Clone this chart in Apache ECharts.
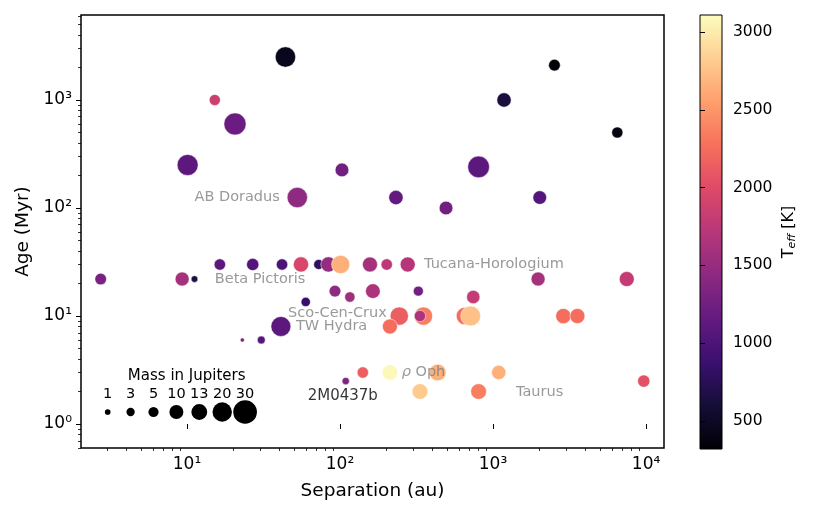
<!DOCTYPE html>
<html><head><meta charset="utf-8">
<script src="https://cdn.jsdelivr.net/npm/echarts@6/dist/echarts.min.js"></script>
<style>html,body{margin:0;padding:0;background:#fff}#c{width:830px;height:519px}</style>
</head><body><div id="c"></div>
<script>
// ---- data ----
const separation = [44, 15.2, 20.6, 10.1, 103, 52.6, 2520, 1180, 6490, 805, 232, 493, 2020,
  16.4, 26.9, 41.8, 55.6, 72.6, 84, 101, 157, 202, 277,
  2.73, 9.3, 11.2, 1970, 7480,
  92.7, 116, 164, 325, 743, 59.7,
  244, 351, 333, 656, 714, 2880, 3560, 212,
  41.1, 23, 30.6,
  141, 109, 212, 435, 1090, 333, 805, 9660];
const ageMyr = [2500, 1000, 600, 250, 225, 125, 2100, 1000, 500, 240, 125, 100, 125,
  30, 30, 30, 30, 30, 30, 30, 30, 30, 30,
  22, 22, 22, 22, 22,
  17, 15, 17, 17, 15, 13.5,
  10, 10, 10, 10, 10, 10, 10, 8,
  8, 6, 6,
  3, 2.5, 3, 3, 3, 2, 2, 2.5];
const massMj = [22, 6, 26, 23.5, 9.5, 22, 6.7, 10.5, 6, 25, 10.5, 9.5, 9.5,
  6.3, 7.5, 6.3, 12, 4.7, 12, 17.6, 11.6, 6.3, 11.6,
  6.7, 10, 1.7, 10, 11.6,
  6.7, 5.1, 11.1, 4.7, 9, 4,
  17.6, 17.6, 6.3, 16, 21, 12, 11.6, 11.6,
  21, 0.2, 2.7,
  6.3, 2.2, 12.7, 14.5, 10.5, 12.7, 12.7, 7.5];
const teffK = [450, 1850, 1200, 1100, 1250, 1450, 340, 650, 380, 1100, 1150, 1250, 1050,
  1100, 1050, 1000, 1950, 800, 1500, 2650, 1600, 1750, 1700,
  1300, 1600, 650, 1600, 1800,
  1450, 1550, 1650, 1250, 1800, 850,
  2150, 2350, 1650, 2250, 2750, 2250, 2250, 2250,
  1100, 1300, 1050,
  2150, 1350, 3080, 2650, 2650, 2800, 2350, 2050];

const groupLabels = ['AB Doradus', 'Beta Pictoris', 'Tucana-Horologium', 'Sco-Cen-Crux', 'TW Hydra', '{it|ρ} Oph', 'Taurus', '2M0437b'];
const groupLabelSep = [11.2, 15.2, 354, 45.7, 51.5, 253, 1413, 61.5];
const groupLabelAge = [126, 22, 30, 10.7, 8.0, 3.0, 1.98, 1.82];

const legendMasses = [1, 3, 5, 10, 13, 20, 30];
const xMajorExp = [1, 2, 3, 4];
const yMajorExp = [0, 1, 2, 3];
const colorbarTicks = [500, 1000, 1500, 2000, 2500, 3000];

// ---- styling / helpers ----
const magma = ['#000004','#140e36','#3b0f70','#641a80','#8c2981','#b73779','#de4968','#f7705c','#fe9f6d','#fecf92','#fcfdbf'];
const sizeOf = m => Math.sqrt(18.2 * m + 14);
const SUP = {'-1':'⁻¹','0':'⁰','1':'¹','2':'²','3':'³','4':'⁴'};
const fmtPow = v => {
  const l = Math.log10(v), r = Math.round(l);
  return Math.abs(l - r) < 1e-6 ? '10' + SUP[String(r)] : '';
};
const xMin = 2.03, xMax = 13100, yMin = 0.6, yMax = 6120;
const tMin = 320, tMax = 3110;
const minorLogs = (lo, hi) => {
  const out = [];
  for (let e = -1; e <= 4; e++) for (let k = 2; k <= 9; k++) {
    const v = k * Math.pow(10, e);
    if (v > lo && v < hi) out.push(Math.log10(v));
  }
  return out;
};
const FONT = 'DejaVu Sans';
const tickAxis = (gridIndex, lo, hi, values, len, w, pos) => ({
  type: 'value', gridIndex, min: Math.log10(lo), max: Math.log10(hi), position: pos,
  axisLine: {show: false}, axisLabel: {show: false}, splitLine: {show: false},
  axisTick: {show: true, customValues: values, length: len, lineStyle: {color: '#000', width: w}}
});

const chart = echarts.init(document.getElementById('c'));
const points = separation.map((s, i) => [s, ageMyr[i], massMj[i], teffK[i]]);

chart.setOption({
  animation: false,
  textStyle: {fontFamily: FONT},
  grid: [
    {left: 81, right: 166, top: 15, bottom: 71, show: true, borderColor: '#000', borderWidth: 1.5, backgroundColor: '#fff'},
    {left: 700, right: 108, top: 15, bottom: 70, show: true, borderColor: '#000', borderWidth: 1,
      backgroundColor: new echarts.graphic.LinearGradient(0, 1, 0, 0, magma.map((c, i) => ({offset: i / (magma.length - 1), color: c})))}
  ],
  xAxis: [
    {type: 'log', logBase: 10, gridIndex: 0, min: xMin, max: xMax,
      axisLine: {show: false}, axisTick: {show: false}, splitLine: {show: false}, minorTick: {show: false},
      axisLabel: {formatter: fmtPow, color: '#000', fontSize: 17, margin: 8, fontFamily: FONT},
      name: 'Separation (au)', nameLocation: 'middle', nameGap: 34,
      nameTextStyle: {fontSize: 18.5, color: '#000', fontFamily: FONT}},
    tickAxis(0, xMin, xMax, xMajorExp, 5, 1, 'bottom'),
    tickAxis(0, xMin, xMax, minorLogs(xMin, xMax), 3, 0.8, 'bottom'),
    {type: 'value', gridIndex: 1, show: false, min: 0, max: 1}
  ],
  yAxis: [
    {type: 'log', logBase: 10, gridIndex: 0, min: yMin, max: yMax,
      axisLine: {show: false}, axisTick: {show: false}, splitLine: {show: false}, minorTick: {show: false},
      axisLabel: {formatter: fmtPow, color: '#000', fontSize: 17, margin: 9, fontFamily: FONT},
      name: 'Age (Myr)', nameLocation: 'middle', nameGap: 43,
      nameTextStyle: {fontSize: 18.5, color: '#000', fontFamily: FONT}},
    tickAxis(0, yMin, yMax, yMajorExp, 5, 1, 'left'),
    tickAxis(0, yMin, yMax, minorLogs(yMin, yMax), 3, 0.8, 'left'),
    {type: 'value', gridIndex: 1, min: tMin, max: tMax, position: 'right',
      axisLine: {show: false}, splitLine: {show: false},
      axisTick: {show: true, customValues: colorbarTicks, length: 5, lineStyle: {color: '#000', width: 1}},
      axisLabel: {customValues: colorbarTicks, formatter: v => String(v), color: '#000', fontSize: 15.5, margin: 11, fontFamily: FONT},
      name: 'T{sub|eff} [K]', nameLocation: 'middle', nameRotate: 90, nameGap: 58,
      nameTextStyle: {fontSize: 16, color: '#000', fontFamily: FONT,
        rich: {sub: {fontSize: 11, fontStyle: 'italic', fontFamily: FONT, color: '#000', verticalAlign: 'bottom', padding: [7, 0, 0, 0]}}}}
  ],
  visualMap: [{type: 'continuous', show: false, min: tMin, max: tMax, dimension: 3, seriesIndex: 0, inRange: {color: magma}}],
  series: [
    {type: 'scatter', xAxisIndex: 0, yAxisIndex: 0, data: points,
      symbolSize: v => sizeOf(v[2]),
      itemStyle: {borderColor: '#ffffff', borderWidth: 0.5, opacity: 1}, z: 2},
    {type: 'scatter', xAxisIndex: 0, yAxisIndex: 0, symbolSize: 0, silent: true, z: 5,
      data: groupLabels.map((n, i) => ({name: n, value: [groupLabelSep[i], groupLabelAge[i]],
        label: n === '2M0437b' ? {color: '#000', fontSize: 15} : {}})),
      label: {show: true, position: 'right', distance: 0, formatter: p => p.name,
        fontSize: 14.5, color: '#808080', fontFamily: FONT,
        rich: {it: {fontStyle: 'italic', fontSize: 14.5, color: '#808080', fontFamily: FONT}}}}
  ],
  graphic: [
    {type: 'text', x: 186.7, y: 376, style: {text: 'Mass in Jupiters', fontSize: 15, fontFamily: FONT, fill: '#000', align: 'center', verticalAlign: 'middle'}},
    ...legendMasses.map((m, i) => ({type: 'text', x: 107.7 + i * 22.9, y: 394,
      style: {text: String(m), fontSize: 14.5, fontFamily: FONT, fill: '#000', align: 'center', verticalAlign: 'middle'}})),
    ...legendMasses.map((m, i) => ({type: 'circle', shape: {cx: 107.7 + i * 22.9, cy: 412, r: sizeOf(m) / 2},
      style: {fill: '#000'}}))
  ]
});
</script></body></html>
